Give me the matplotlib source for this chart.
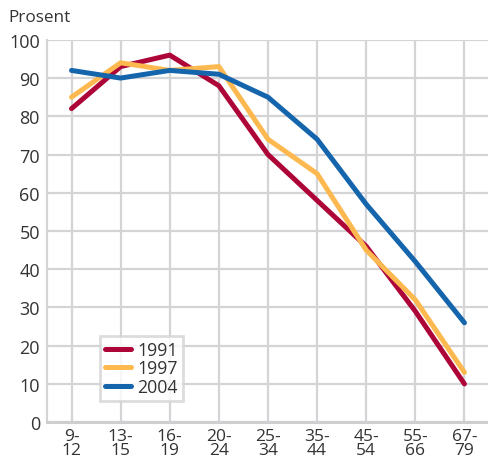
import numpy as np
import matplotlib.pyplot as plt

plt.rcParams['font.family'] = ['Open Sans', 'DejaVu Sans']

age_groups = ['9-\n12', '13-\n15', '16-\n19', '20-\n24', '25-\n34',
              '35-\n44', '45-\n54', '55-\n66', '67-\n79']
years = ['1991', '1997', '2004']
v1991 = [82, 93, 96, 88, 70, 58, 46, 29, 10]
v1997 = [85, 94, 92, 93, 74, 65, 45, 32, 13]
v2004 = [92, 90, 92, 91, 85, 74, 57, 42, 26]
colors = ['#ae0539', '#fdb94f', '#1565ad']

fig = plt.figure(figsize=(4.89, 4.64), dpi=100)
ax = fig.add_axes([0.096, 0.088, 0.904, 0.824])

x = np.arange(len(age_groups))
for vals, lab, c in zip([v1991, v1997, v2004], years, colors):
    ax.plot(x, vals, color=c, lw=3.6, label=lab, solid_capstyle='round',
            solid_joinstyle='round', zorder=3)

ax.set_xlim(-0.5, len(age_groups) - 0.5)
ax.set_ylim(0, 100)
ax.set_yticks(np.arange(0, 101, 10))
ax.set_xticks(x)
ax.set_xticklabels(age_groups, linespacing=0.82)
ax.tick_params(length=0, labelsize=13, colors='#333333')
ax.tick_params(axis='x', pad=4, labelsize=12.5)
ax.tick_params(axis='y', pad=5)

ax.grid(True, color='#d4d4d6', lw=1.6, zorder=0)
ax.set_axisbelow(True)
for s in ['top', 'right']:
    ax.spines[s].set_visible(False)
ax.spines['left'].set_color('#d4d4d6')
ax.spines['left'].set_linewidth(1.6)
ax.spines['bottom'].set_color('#cfcfd2')
ax.spines['bottom'].set_linewidth(2.2)

fig.text(0.018, 0.978, 'Prosent', ha='left', va='top', fontsize=12.3, color='#333333')

leg = ax.legend(loc='lower left', bbox_to_anchor=(0.12, 0.055), fontsize=12.8,
                frameon=True, fancybox=False, handlelength=1.45, handletextpad=0.35,
                labelspacing=0.02, borderpad=0.3, borderaxespad=0)
leg.get_frame().set_edgecolor('#d4d4d6')
leg.get_frame().set_linewidth(2)
for t in leg.get_texts():
    t.set_color('#333333')

fig.savefig('out.png', dpi=100)
